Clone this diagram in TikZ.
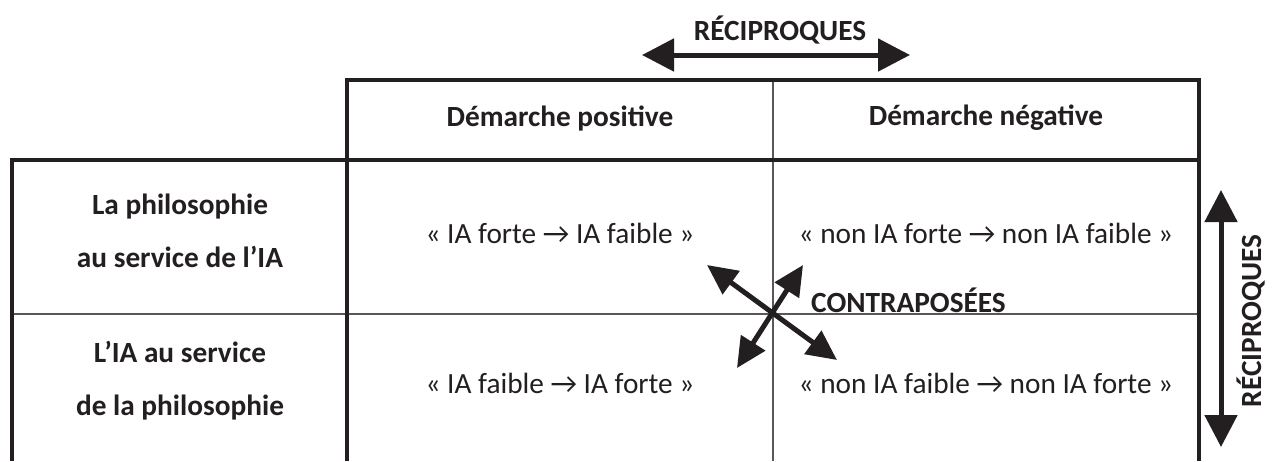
\documentclass[tikz,border=0pt]{standalone}
\usepackage{fontspec}
\setmainfont{Carlito}
\usetikzlibrary{arrows.meta}
\definecolor{ink}{HTML}{231F20}
\begin{document}
\begin{tikzpicture}[x=1pt,y=-1pt,
  thickline/.style={line width=4.5pt, draw=ink},
  thinline/.style={line width=1.3pt, draw=ink!75},
  hdr/.style={font=\fontsize{29.3}{53}\selectfont\bfseries, text=ink, inner sep=0pt, align=center},
  cell/.style={font=\fontsize{29.3}{32}\selectfont, text=ink, inner sep=0pt},
  bigarrow/.style={line width=5pt, draw=ink, {Triangle[length=32pt,width=32pt]}-{Triangle[length=32pt,width=32pt]}},
  crossarrow/.style={line width=5pt, draw=ink, {Triangle[length=30pt,width=28pt]}-{Triangle[length=30pt,width=28pt]}},
]
\useasboundingbox (0,0) rectangle (1274,461);
\fill[white] (0,0) rectangle (1274,461);
% thin grid lines
\draw[thinline] (773,80) -- (773,461);
\draw[thinline] (12,314) -- (1199,314);
% thick lines
\draw[thickline] (347,461) -- (347,80) -- (1199,80) -- (1199,461);
\draw[thickline] (12,461) -- (12,160) -- (1199,160);
% headers
\node[hdr] (hpos) at (560,118) {Démarche positive};
\node[hdr] (hneg) at (986,118) {Démarche négative};
\node[hdr] (r1) at (180,231) {La philosophie\\au service de l’IA};
\node[hdr] (r2) at (180,381) {L’IA au service\\de la philosophie};
% cells
\node[cell] (c11) at (560,233) {« IA forte → IA faible »};
\node[cell] (c12) at (986,233) {« non IA forte → non IA faible »};
\node[cell] (c21) at (560,383) {« IA faible → IA forte »};
\node[cell] (c22) at (986,383) {« non IA faible → non IA forte »};
% reciprocal arrows
\node[hdr] (rtop) at (780,30) {RÉCIPROQUES};
\coordinate (tl) at (642,55);
\coordinate (tr) at (910,55);
\draw[bigarrow] (tl) -- (tr);
\node[hdr, rotate=90] (rright) at (1251,321) {RÉCIPROQUES};
\coordinate (rt) at (1221,190);
\coordinate (rb) at (1221,447);
\draw[bigarrow] (rt) -- (rb);
% contraposees
\coordinate (a1) at (707,265);
\coordinate (a2) at (837,360);
\coordinate (b1) at (803,265);
\coordinate (b2) at (737,368);
\draw[crossarrow] (a1) -- (a2);
\draw[crossarrow] (b1) -- (b2);
\node[hdr, anchor=west] (contra) at (811,300) {CONTRAPOSÉES};
\end{tikzpicture}
\end{document}
